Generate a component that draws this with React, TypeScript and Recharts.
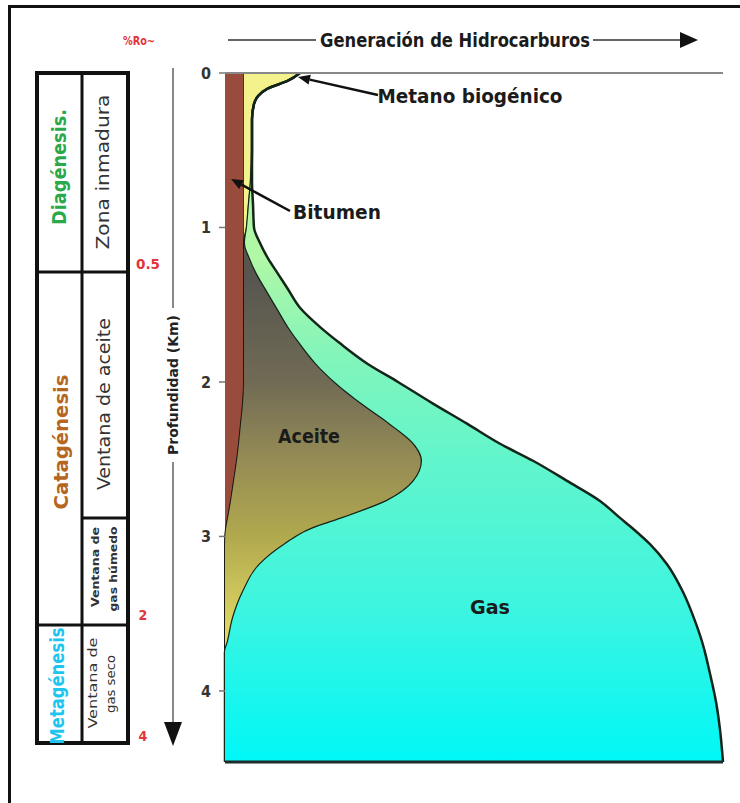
import React from 'react';
import { ComposedChart, Area, XAxis, YAxis, ReferenceLine } from 'recharts';

const FONT = '"Liberation Sans Narrow", "DejaVu Sans Condensed", "Roboto Condensed", Arial, sans-serif';

// depth (km) rows
const depths = [0, 0.05, 0.1, 0.15, 0.2, 0.3, 0.5, 0.7, 0.85, 1.0, 1.1, 1.2, 1.3, 1.4, 1.52, 1.65, 1.75, 1.88, 2.0, 2.14, 2.27, 2.4, 2.51, 2.64, 2.77, 2.88, 2.95, 3.05, 3.18, 3.36, 3.53, 3.68, 3.75, 3.86, 4.07, 4.25, 4.46];
// stacked widths (relative generation)
const bitumen = [19, 19, 19, 19, 19, 19, 19, 19, 19, 19, 19, 19, 19, 19, 19, 19, 19, 19, 19, 18, 16, 14, 12, 9, 6, 3, 1, 0, 0, 0, 0, 0, 0, 0, 0, 0, 0];
const metano = [56, 44, 24, 14, 10, 8, 8, 7, 5, 3, 0, 0, 0, 0, 0, 0, 0, 0, 0, 0, 0, 0, 0, 0, 0, 0, 0, 0, 0, 0, 0, 0, 0, 0, 0, 0, 0];
const aceite = [0, 0, 0, 0, 0, 0, 0, 0, 0, 0, 1, 6, 13, 22, 33, 45, 56, 72, 91, 119, 149, 175, 185, 180, 156, 115, 86, 60, 35, 18, 8, 3, 0, 0, 0, 0, 0];
const gas = [0, 0, 0, 0, 0, 0, 0, 1, 4, 7, 15, 18, 21, 22, 23, 32, 40, 51, 63, 71, 77, 86, 111, 153, 213, 277, 321, 365, 407, 440, 461, 474, 480, 484, 491, 495, 498];

const depthTicks = [0, 1, 2, 3, 4];
const surfaceDepth = 0;
const baseDepth = 4.46;
const roLabels = ['0.5', '2', '4'];

const chartData = depths.map((depth, i) => ({
  depth,
  bitumen: bitumen[i],
  metano: metano[i],
  aceite: aceite[i],
  gas: gas[i],
}));

function VText({ x, y, size, color, weight = 'bold', len, children }: any) {
  return (
    <text
      x={x}
      y={y}
      transform={`rotate(-90 ${x} ${y})`}
      textAnchor="middle"
      dominantBaseline="central"
      fontSize={size}
      fill={color}
      fontWeight={weight}
      fontFamily={FONT}
      textLength={len}
      lengthAdjust="spacingAndGlyphs"
    >
      {children}
    </text>
  );
}

function HText({ x, y, size = 20, color = '#1b1b1b', weight = 'bold', len, children }: any) {
  return (
    <text
      x={x}
      y={y}
      textAnchor="middle"
      dominantBaseline="central"
      fontSize={size}
      fill={color}
      fontWeight={weight}
      fontFamily={FONT}
      textLength={len}
      lengthAdjust="spacingAndGlyphs"
    >
      {children}
    </text>
  );
}

// arrow from (x1,y1) to tip (x2,y2)
function Arrow({ x1, y1, x2, y2, head = 12, half = 5, color = '#111', w = 2.5 }: any) {
  const dx = x2 - x1;
  const dy = y2 - y1;
  const l = Math.sqrt(dx * dx + dy * dy);
  const ux = dx / l;
  const uy = dy / l;
  const bx = x2 - ux * head;
  const by = y2 - uy * head;
  const pts = `${x2},${y2} ${bx - uy * half},${by + ux * half} ${bx + uy * half},${by - ux * half}`;
  return (
    <g>
      <line x1={x1} y1={y1} x2={bx} y2={by} stroke={color} strokeWidth={w} />
      <polygon points={pts} fill={color} />
    </g>
  );
}

function Overlay() {
  return (
    <svg width={740} height={803} style={{ position: 'absolute', left: 0, top: 0, pointerEvents: 'none' }}>
      {/* frame */}
      <line x1={8} y1={6.5} x2={740} y2={6.5} stroke="#111" strokeWidth={3} />
      <line x1={9.5} y1={5} x2={9.5} y2={803} stroke="#111" strokeWidth={3} />

      {/* title */}
      <HText x={139} y={41} size={12} color="#e3343a" len={32}>%Ro~</HText>
      <HText x={455} y={40} size={20} len={270}>Generación de Hidrocarburos</HText>
      <line x1={228} y1={40} x2={316} y2={40} stroke="#333" strokeWidth={1.5} />
      <line x1={593} y1={40} x2={682} y2={40} stroke="#333" strokeWidth={1.5} />
      <polygon points="680,32 698,40 680,48" fill="#111" />

      {/* labels inside plot */}
      <HText x={470} y={96} len={185}>Metano biogénico</HText>
      <Arrow x1={378} y1={95} x2={298} y2={77} />
      <HText x={337} y={212} len={88}>Bitumen</HText>
      <Arrow x1={290} y1={211} x2={231} y2={179} />
      <HText x={309} y={436} len={62}>Aceite</HText>
      <HText x={490} y={607} len={40}>Gas</HText>

      {/* depth axis label + arrow */}
      <line x1={173} y1={68} x2={173} y2={308} stroke="#888" strokeWidth={2} />
      <line x1={173} y1={462} x2={173} y2={728} stroke="#888" strokeWidth={2} />
      <polygon points="164,722 182,722 173,746" fill="#111" />
      <VText x={173} y={385} size={14} color="#222" len={140}>Profundidad (Km)</VText>

      {/* %Ro values */}
      <HText x={148} y={264} size={14} color="#e3343a" len={24}>{roLabels[0]}</HText>
      <HText x={143} y={615} size={14} color="#e3343a">{roLabels[1]}</HText>
      <HText x={143} y={736} size={14} color="#e3343a">{roLabels[2]}</HText>

      {/* stage table */}
      <rect x={37} y={73} width={91} height={670} fill="none" stroke="#111" strokeWidth={4} />
      <line x1={82} y1={73} x2={82} y2={743} stroke="#111" strokeWidth={3} />
      <line x1={37} y1={272} x2={128} y2={272} stroke="#111" strokeWidth={3} />
      <line x1={37} y1={625} x2={128} y2={625} stroke="#111" strokeWidth={3} />
      <line x1={82} y1={518} x2={128} y2={518} stroke="#111" strokeWidth={3} />

      <VText x={59} y={167} size={20} color="#2aa84a" len={116}>Diagénesis.</VText>
      <VText x={61} y={442} size={20} color="#b5671f" len={135}>Catagénesis</VText>
      <VText x={57} y={686} size={19} color="#20c5ef" len={117}>Metagénesis</VText>

      <VText x={102} y={172} size={18} color="#333" weight="500" len={155}>Zona inmadura</VText>
      <VText x={103} y={404} size={18} color="#333" weight="500" len={172}>Ventana de aceite</VText>
      <VText x={95} y={567} size={11} color="#333" len={80}>Ventana de</VText>
      <VText x={113} y={569} size={11} color="#333" len={85}>gas húmedo</VText>
      <VText x={92} y={683} size={13} color="#333" weight="500" len={91}>Ventana de</VText>
      <VText x={110} y={684} size={13} color="#333" weight="500" len={58}>gas seco</VText>
    </svg>
  );
}

export default function App() {
  return (
    <div style={{ position: 'absolute', left: 0, top: 0, width: 740, height: 803, background: '#fff', overflow: 'hidden' }}>
      <ComposedChart
        width={740}
        height={803}
        data={chartData}
        layout="vertical"
        margin={{ top: 73, right: 17, bottom: 41, left: 195 }}
      >
        <defs>
          <linearGradient id="aceiteFill" x1="0" y1="0" x2="0" y2="1">
            <stop offset="0.29" stopColor="#56554f" />
            <stop offset="0.45" stopColor="#716b55" />
            <stop offset="0.56" stopColor="#958b55" />
            <stop offset="0.67" stopColor="#b0a84e" />
            <stop offset="0.78" stopColor="#d5cd5e" />
            <stop offset="0.84" stopColor="#e8e06c" />
          </linearGradient>
          <linearGradient id="gasFill" x1="0" y1="0" x2="0" y2="1">
            <stop offset="0.27" stopColor="#b0f7a6" />
            <stop offset="0.42" stopColor="#80f5bc" />
            <stop offset="0.56" stopColor="#62f5cc" />
            <stop offset="0.78" stopColor="#3cf5e0" />
            <stop offset="1" stopColor="#00f7f7" />
          </linearGradient>
        </defs>
        <XAxis xAxisId="bottom" type="number" domain={[0, 498]} hide />
        <YAxis
          type="number"
          dataKey="depth"
          domain={[0, 4.46]}
          ticks={depthTicks}
          width={30}
          axisLine={false}
          tickSize={6}
          tickMargin={8}
          tickLine={{ stroke: '#777', strokeWidth: 1.5 }}
          tick={{ fill: '#333', fontSize: 16, fontWeight: 'bold', fontFamily: FONT }}
        />
        <Area xAxisId="bottom" type="monotone" dataKey="bitumen" stackId="g" fill="#9a4c3c" fillOpacity={1} stroke="#3a2a20" strokeWidth={1.5} isAnimationActive={false} />
        <Area xAxisId="bottom" type="monotone" dataKey="metano" stackId="g" fill="#f4f28c" fillOpacity={1} stroke="#1a1a10" strokeWidth={2} isAnimationActive={false} />
        <Area xAxisId="bottom" type="monotone" dataKey="aceite" stackId="g" fill="url(#aceiteFill)" fillOpacity={1} stroke="#14261a" strokeWidth={2.5} isAnimationActive={false} />
        <Area xAxisId="bottom" type="monotone" dataKey="gas" stackId="g" fill="url(#gasFill)" fillOpacity={1} stroke="#14261a" strokeWidth={2.5} isAnimationActive={false} />
        <ReferenceLine xAxisId="bottom" y={surfaceDepth} stroke="#888" strokeWidth={2} />
        <ReferenceLine xAxisId="bottom" y={baseDepth} stroke="#1d2b2b" strokeWidth={3} />
      </ComposedChart>
      <Overlay />
    </div>
  );
}
